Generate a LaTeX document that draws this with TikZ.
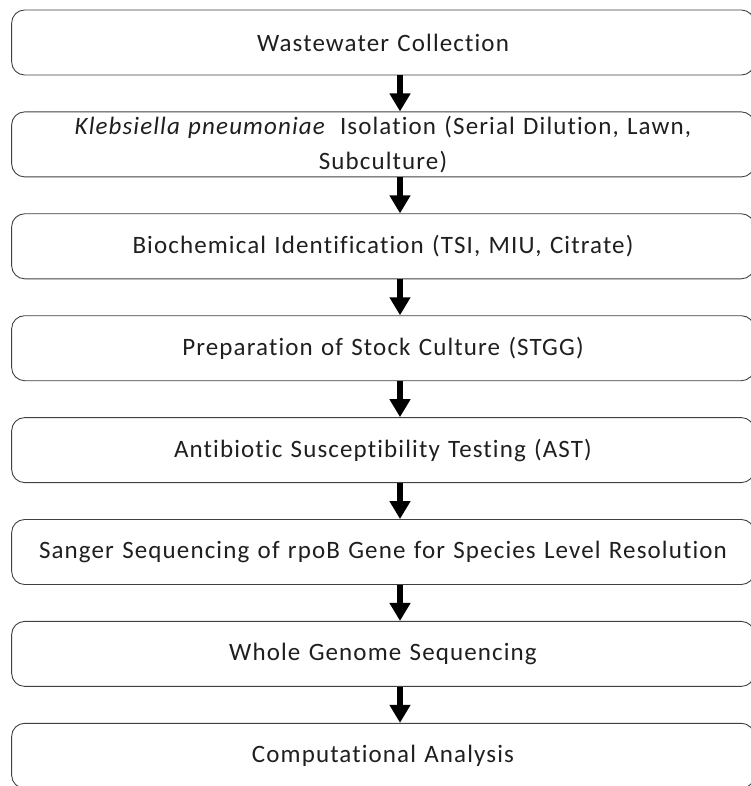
\documentclass[tikz,border=0pt]{standalone}
\usepackage{fontspec}
\setmainfont{Carlito}[Ligatures=NoCommon, LetterSpace=4.5, WordSpace=0.8]
\usepackage{tikz}
\usetikzlibrary{arrows.meta, positioning}
\tikzset{
  stepbox/.style={rectangle, draw=black!75, line width=0.9pt, rounded corners=13pt, minimum width=740pt, minimum height=65pt, text width=736pt, align=center, text=black!88, font=\fontsize{25}{35}\selectfont},
  flow/.style={-{Triangle[width=20pt, length=18pt]}, line width=6pt, black},
}

\begin{document}
\begin{tikzpicture}[x=1pt, y=-1pt]
  \useasboundingbox (0,0) rectangle (751,786);
  \node[stepbox] (s1) at (383, 42.5) {Wastewater Collection};
  \node[stepbox] (s2) at (383, 144.4) {\textit{Klebsiella pneumoniae}\hspace{14pt}Isolation (Serial Dilution, Lawn,\\ Subculture)};
  \node[stepbox] (s3) at (383, 246.3) {Biochemical Identification (TSI, MIU, Citrate)};
  \node[stepbox] (s4) at (383, 348.2) {Preparation of Stock Culture (STGG)};
  \node[stepbox] (s5) at (383, 450.1) {Antibiotic Susceptibility Testing (AST)};
  \node[stepbox] (s6) at (383, 552.0) {Sanger Sequencing of rpoB Gene for Species Level Resolution};
  \node[stepbox] (s7) at (383, 653.9) {Whole Genome Sequencing};
  \node[stepbox] (s8) at (383, 755.8) {Computational Analysis};
  % arrows between steps
  \foreach \a/\b in {s1/s2, s2/s3, s3/s4, s4/s5, s5/s6, s6/s7, s7/s8} {
    \draw[flow] ([xshift=17pt]\a.south) -- ([xshift=17pt]\b.north);
  }
\end{tikzpicture}
\end{document}
